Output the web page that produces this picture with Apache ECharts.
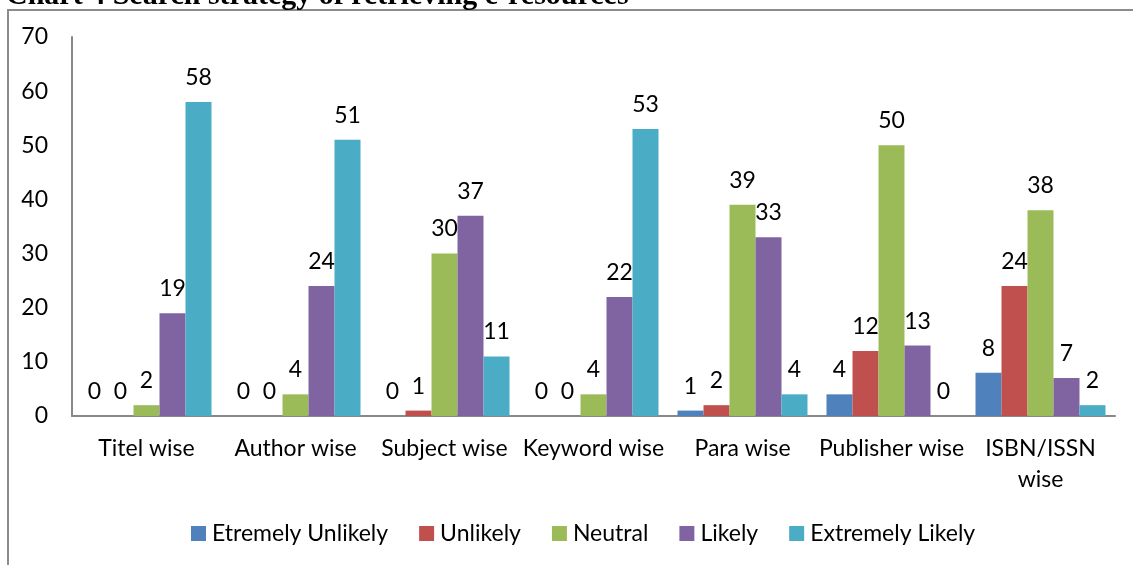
<!DOCTYPE html>
<html>
<head>
<meta charset="utf-8">
<script src="https://cdn.jsdelivr.net/npm/echarts@6/dist/echarts.min.js"></script>
<style>
  html, body { margin: 0; padding: 0; background: #fff; }
  #chart { width: 1133px; height: 565px; }
</style>
</head>
<body>
<div id="chart"></div>
<script>
// categories and series
var categories = ['Titel wise', 'Author wise', 'Subject wise', 'Keyword wise', 'Para wise', 'Publisher wise', 'ISBN/ISSN\nwise'];
var seriesNames = ['Etremely Unlikely', 'Unlikely', 'Neutral', 'Likely', 'Extremely Likely'];
var etremelyUnlikely = [0, 0, 0, 0, 1, 4, 8];
var unlikely = [0, 0, 1, 0, 2, 12, 24];
var neutral = [2, 4, 30, 4, 39, 50, 38];
var likely = [19, 24, 37, 22, 33, 13, 7];
var extremelyLikely = [58, 51, 11, 53, 4, 0, 2];
var yTicks = [0, 10, 20, 30, 40, 50, 60, 70];

var colors = ['#4F81BD', '#C0504D', '#9BBB59', '#8064A2', '#4BACC6'];
var values = [etremelyUnlikely, unlikely, neutral, likely, extremelyLikely];
var font = 'Lato';
var fs = 23;

var myChart = echarts.init(document.getElementById('chart'));

var series = values.map(function (arr, i) {
    return {
        name: seriesNames[i],
        type: 'bar',
        data: arr,
        barWidth: 26,
        barGap: '0%',
        itemStyle: { color: colors[i] },
        label: {
            show: true,
            position: 'top',
            distance: 13,
            fontFamily: font,
            fontSize: fs,
            color: '#000'
        }
    };
});

var option = {
    animation: false,
    color: colors,
    graphic: [
        {
            type: 'rect',
            shape: { x: 8, y: 10, width: 1200, height: 600 },
            style: { fill: 'none', stroke: '#8c8c8c', lineWidth: 2 },
            silent: true
        },
        {
            type: 'text',
            left: 6,
            top: -19,
            style: {
                text: 'Chart 4 Search strategy of retrieving e-resources',
                fontFamily: 'Liberation Serif',
                fontWeight: 'bold',
                fontSize: 30,
                fill: '#000'
            }
        }
    ],
    grid: { left: 72, right: 18, top: 37, bottom: 149 },
    legend: {
        data: seriesNames,
        top: 517,
        left: 186,
        itemWidth: 15,
        itemHeight: 15,
        itemGap: 31,
        icon: 'rect',
        textStyle: { fontFamily: font, fontSize: fs, color: '#000', padding: [0, 0, 0, 1] }
    },
    xAxis: {
        type: 'category',
        data: categories,
        axisLine: { lineStyle: { color: '#888', width: 2 } },
        axisTick: { show: false },
        axisLabel: {
            interval: 0,
            margin: 17,
            fontFamily: font,
            fontSize: fs,
            lineHeight: 31,
            color: '#000'
        }
    },
    yAxis: {
        type: 'value',
        min: yTicks[0],
        max: yTicks[yTicks.length - 1],
        interval: 10,
        splitLine: { show: false },
        axisLine: { show: true, lineStyle: { color: '#888', width: 2 } },
        axisTick: { show: false },
        axisLabel: { margin: 24, fontFamily: font, fontSize: fs, color: '#000' }
    },
    series: series
};

myChart.setOption(option);
</script>
</body>
</html>
